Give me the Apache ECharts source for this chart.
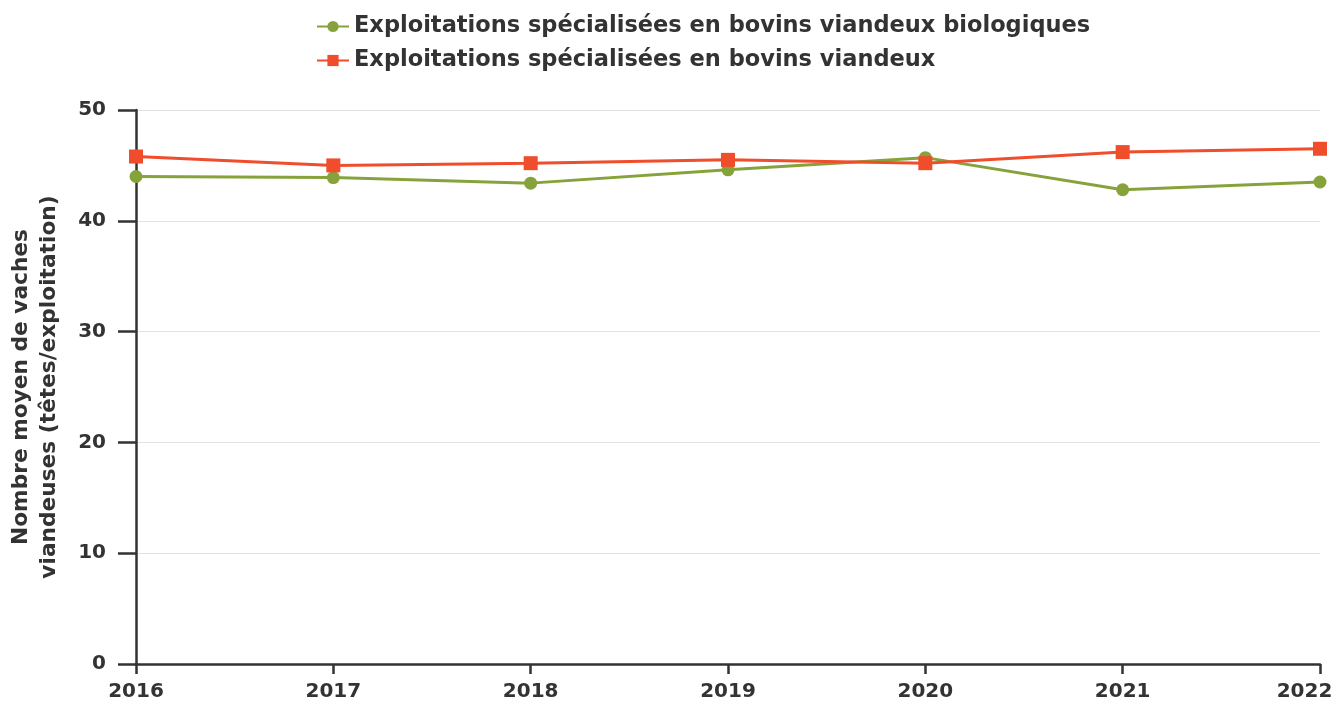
<!DOCTYPE html>
<html><head><meta charset="utf-8">
<script src="https://cdn.jsdelivr.net/npm/echarts@6/dist/echarts.min.js"></script>
<style>html,body{margin:0;padding:0;background:#fff}#c{width:1335px;height:702px}</style>
</head><body><div id="c"></div>
<script>
const years = ['2016','2017','2018','2019','2020','2021','2022'];
const bioValues = [44.0, 43.9, 43.4, 44.6, 45.7, 42.8, 43.5];
const allValues = [45.8, 45.0, 45.2, 45.5, 45.2, 46.2, 46.5];
const bioName = 'Exploitations spécialisées en bovins viandeux biologiques';
const allName = 'Exploitations spécialisées en bovins viandeux';
const yTicks = [0, 10, 20, 30, 40, 50];

const font = 'DejaVu Sans';
const tickFont = {fontFamily: font, fontWeight: 'bold', fontSize: 20, color: '#333'};
const chart = echarts.init(document.getElementById('c'));
chart.setOption({
  animation: false,
  textStyle: {fontFamily: font},
  legend: {
    orient: 'vertical', left: 311, top: 10, itemGap: 11, itemWidth: 32, itemHeight: 14,
    textStyle: {fontFamily: font, fontWeight: 'bold', fontSize: 22.5, color: '#333'},
    data: [bioName, allName]
  },
  grid: {left: 136, right: 15, top: 110, bottom: 38, outerBoundsMode: 'none', containLabel: false},
  xAxis: {
    type: 'category', data: years, boundaryGap: false,
    axisLine: {lineStyle: {color: '#333', width: 2.5}},
    axisTick: {alignWithLabel: true, length: 10, lineStyle: {color: '#333', width: 2.5}},
    axisLabel: Object.assign({}, tickFont, {
      margin: 18, showMaxLabel: true, showMinLabel: true,
      formatter: (v, i) => i === years.length - 1 ? '{last|' + v + '}' : v,
      rich: {last: Object.assign({}, tickFont, {padding: [0, 31, 0, 0]})}
    })
  },
  yAxis: {
    type: 'value', min: yTicks[0], max: yTicks[yTicks.length-1], interval: 10,
    name: 'Nombre moyen de vaches\nviandeuses (têtes/exploitation)',
    nameLocation: 'middle', nameGap: 73, nameRotate: 90,
    nameTextStyle: {fontFamily: font, fontWeight: 'bold', fontSize: 21.7, color: '#333', lineHeight: 28},
    axisLine: {show: true, lineStyle: {color: '#333', width: 2.5}},
    axisTick: {show: true, length: 18, lineStyle: {color: '#333', width: 2.5}},
    axisLabel: Object.assign({}, tickFont, {margin: 30}),
    splitLine: {lineStyle: {color: '#e3e3e3', width: 1}}
  },
  series: [
    {name: bioName, type: 'line', data: bioValues, symbol: 'circle', symbolSize: 13,
     color: '#86a33b', lineStyle: {width: 3}, z: 2},
    {name: allName, type: 'line', data: allValues, symbol: 'rect', symbolSize: 14,
     color: '#ef4d2c', lineStyle: {width: 3}, z: 3}
  ]
});
</script></body></html>
